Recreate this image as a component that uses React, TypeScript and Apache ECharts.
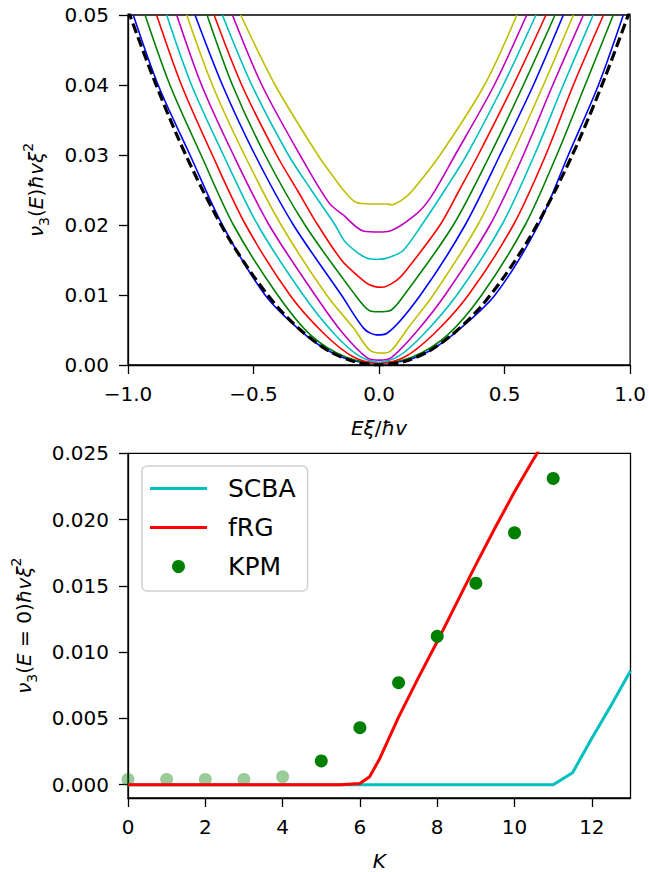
import React, { useEffect, useRef } from 'react';
import * as echarts from 'echarts';

const FONT = 'DejaVu Sans';

// ---------- top panel: nu_3(E) curves for K = 0..11 ----------
const topXTicks = [-1, -0.5, 0, 0.5, 1];
const topYTicks = [0, 0.01, 0.02, 0.03, 0.04, 0.05];

const curveK0 = [[-0.979,0.05],[-0.88,0.04],[-0.753,0.03],[-0.624,0.02],[-0.454,0.01],[-0.31,0.0048],[-0.2,0.002],[-0.1,0.0006],[0,0.0003],[0.1,0.0006],[0.2,0.002],[0.31,0.0048],[0.462,0.01],[0.635,0.02],[0.754,0.03],[0.874,0.04],[0.973,0.05]];
const curveK1 = [[-0.932,0.05],[-0.833,0.04],[-0.709,0.03],[-0.58,0.02],[-0.404,0.01],[-0.27,0.0042],[-0.13,0.0011],[0,0.0003],[0.13,0.0011],[0.27,0.0042],[0.409,0.01],[0.582,0.02],[0.708,0.03],[0.821,0.04],[0.933,0.05]];
const curveK2 = [[-0.886,0.05],[-0.787,0.04],[-0.664,0.03],[-0.531,0.02],[-0.355,0.01],[-0.22,0.0045],[-0.1,0.0011],[0,0.0003],[0.1,0.0011],[0.22,0.0045],[0.356,0.01],[0.535,0.02],[0.664,0.03],[0.774,0.04],[0.894,0.05]];
const curveK3 = [[-0.846,0.05],[-0.747,0.04],[-0.62,0.03],[-0.483,0.02],[-0.302,0.01],[-0.18,0.0045],[-0.08,0.0013],[0,0.0004],[0.08,0.0013],[0.18,0.0045],[0.31,0.01],[0.489,0.02],[0.619,0.03],[0.734,0.04],[0.853,0.05]];
const curveK4 = [[-0.806,0.05],[-0.707,0.04],[-0.58,0.03],[-0.438,0.02],[-0.255,0.01],[-0.15,0.0048],[-0.05,0.0011],[0,0.0007],[0.05,0.0011],[0.15,0.0048],[0.263,0.01],[0.442,0.02],[0.575,0.03],[0.692,0.04],[0.814,0.05]];
const curveK5 = [[-0.766,0.05],[-0.664,0.04],[-0.536,0.03],[-0.39,0.02],[-0.209,0.01],[-0.1,0.0052],[-0.036,0.0021],[0.017,0.0017],[0.05,0.0021],[0.12,0.0055],[0.216,0.01],[0.393,0.02],[0.529,0.03],[0.655,0.04],[0.774,0.05]];
const curveK6 = [[-0.733,0.05],[-0.624,0.04],[-0.494,0.03],[-0.341,0.02],[-0.15,0.01],[-0.06,0.0052],[-0.01,0.0043],[0.03,0.0045],[0.165,0.01],[0.343,0.02],[0.482,0.03],[0.615,0.04],[0.734,0.05]];
const curveK7 = [[-0.685,0.05],[-0.584,0.04],[-0.454,0.03],[-0.295,0.02],[-0.095,0.01],[-0.04,0.0078],[0,0.0076],[0.04,0.0077],[0.1,0.01],[0.296,0.02],[0.442,0.03],[0.575,0.04],[0.701,0.05]];
const curveK8 = [[-0.657,0.05],[-0.547,0.04],[-0.408,0.03],[-0.326,0.025],[-0.244,0.02],[-0.15,0.015],[-0.096,0.0131],[-0.04,0.0115],[0.01,0.0111],[0.07,0.0121],[0.11,0.0136],[0.243,0.02],[0.32,0.025],[0.395,0.03],[0.535,0.04],[0.665,0.05]];
const curveK9 = [[-0.624,0.05],[-0.507,0.04],[-0.361,0.03],[-0.27,0.025],[-0.175,0.02],[-0.135,0.0176],[-0.05,0.0153],[0,0.0151],[0.05,0.0155],[0.097,0.0164],[0.17,0.02],[0.262,0.025],[0.349,0.03],[0.495,0.04],[0.625,0.05]];
const curveK10 = [[-0.584,0.05],[-0.467,0.04],[-0.315,0.03],[-0.2,0.0232],[-0.142,0.0214],[-0.06,0.0191],[0,0.019],[0.04,0.0191],[0.143,0.0214],[0.203,0.0238],[0.303,0.03],[0.459,0.04],[0.588,0.05]];
const curveK11 = [[-0.551,0.05],[-0.414,0.04],[-0.244,0.03],[-0.18,0.0268],[-0.142,0.025],[-0.09,0.0232],[-0.03,0.023],[0.03,0.023],[0.05,0.0229],[0.1,0.0238],[0.135,0.025],[0.243,0.03],[0.42,0.04],[0.549,0.05]];

const cleanLimit = [[-1,0.0507],[-0.9,0.0411],[-0.8,0.0324],[-0.7,0.0248],[-0.6,0.0182],[-0.5,0.0127],[-0.4,0.0081],[-0.3,0.0046],[-0.2,0.002],[-0.1,0.0005],[0,0],[0.1,0.0005],[0.2,0.002],[0.3,0.0046],[0.4,0.0081],[0.5,0.0127],[0.6,0.0182],[0.7,0.0248],[0.8,0.0324],[0.9,0.0411],[1,0.0507]];

const curves = [curveK0, curveK1, curveK2, curveK3, curveK4, curveK5, curveK6, curveK7, curveK8, curveK9, curveK10, curveK11];

// ---------- bottom panel: nu_3(E=0) vs K ----------
const botXTicks = [0, 2, 4, 6, 8, 10, 12];
const botYTicks = [0, 0.005, 0.01, 0.015, 0.02, 0.025];

const scbaK = [0, 1, 2, 3, 4, 5, 6, 7, 8, 9, 10, 11, 11.5, 12, 12.5, 13];
const scbaV = [0, 0, 0, 0, 0, 0, 0, 0, 0, 0, 0, 0, 0.0009, 0.0035, 0.006, 0.0086];

const frgK = [0, 1, 2, 3, 4, 5, 5.5, 6, 6.25, 6.5, 7, 7.5, 8, 8.5, 9, 9.5, 10, 10.5, 11];
const frgV = [0, 0, 0, 0, 0, 0, 0, 0.0001, 0.0006, 0.0019, 0.0051, 0.008, 0.0108, 0.0137, 0.0166, 0.0194, 0.0221, 0.0246, 0.027];

const kpmFaintK = [0, 1, 2, 3, 4];
const kpmFaintV = [0.0004, 0.0004, 0.0004, 0.0004, 0.0006];
const kpmK = [5, 6, 7, 8, 9, 10, 11];
const kpmV = [0.0018, 0.0043, 0.0077, 0.0112, 0.0152, 0.019, 0.0231];

const zip = (a: number[], b: number[]) => a.map((v, i) => [v, b[i]]);

const cycle = ['#0000ff', '#008000', '#ff0000', '#00bfbf', '#bf00bf', '#bfbf00'];

const axisCommon = {
  axisLine: { show: true, onZero: false, lineStyle: { color: '#000', width: 1.3 } },
  axisTick: { show: true, length: 9, lineStyle: { color: '#000', width: 1.3 } },
  splitLine: { show: false },
};

const labelStyle = { fontFamily: FONT, fontSize: 20, color: '#000', margin: 19 };
const nameRich = {
  i: { fontFamily: FONT, fontSize: 20, fontStyle: 'italic', color: '#000', lineHeight: 30, verticalAlign: 'middle' },
  n: { fontFamily: FONT, fontSize: 20, fontStyle: 'normal', color: '#000', lineHeight: 30, verticalAlign: 'middle' },
  sub: { fontFamily: FONT, fontSize: 14, fontStyle: 'normal', color: '#000', lineHeight: 30, verticalAlign: 'bottom' },
  sup: { fontFamily: FONT, fontSize: 14, fontStyle: 'normal', color: '#000', lineHeight: 30, verticalAlign: 'top' },
};

const linePath = 'path://M0 0H57V3H0Z';

export default function App() {
  const ref = useRef<HTMLDivElement>(null);
  useEffect(() => {
    if (!ref.current) return;
    const chart = echarts.init(ref.current, undefined, { renderer: 'svg' });
    const topSeries: any[] = curves.map((c, i) => ({
      type: 'line',
      xAxisIndex: 0,
      yAxisIndex: 0,
      data: c,
      showSymbol: false,
      symbol: 'none',
      smooth: 0.3,
      lineStyle: { color: cycle[i % cycle.length], width: 1.6 },
      silent: true,
      z: 2,
    }));
    topSeries.push({
      type: 'line',
      xAxisIndex: 0,
      yAxisIndex: 0,
      data: cleanLimit,
      showSymbol: false,
      symbol: 'none',
      smooth: 0.3,
      lineStyle: { color: '#000', width: 3.2, type: [10, 4.5] },
      silent: true,
      z: 3,
    });
    const option: any = {
      animation: false,
      backgroundColor: '#fff',
      grid: [
        { left: 128, top: 15, width: 502.5, height: 350, show: true, borderColor: '#000', borderWidth: 1.3, backgroundColor: 'transparent' },
        { left: 128, top: 453.3, width: 502.5, height: 350, show: true, borderColor: '#000', borderWidth: 1.3, backgroundColor: 'transparent' },
      ],
      xAxis: [
        {
          ...axisCommon,
          gridIndex: 0,
          type: 'value',
          min: -1,
          max: 1,
          interval: 0.5,
          axisLabel: { ...labelStyle, customValues: topXTicks, formatter: (v: number) => v.toFixed(1).replace('-', '\u2212') },
          axisTick: { ...axisCommon.axisTick, customValues: topXTicks },
          name: '{i|E\u03be}{n|/}{i|\u0127v}',
          nameLocation: 'middle',
          nameGap: 48,
          nameTextStyle: { rich: nameRich, fontFamily: FONT, fontSize: 20 },
        },
        {
          ...axisCommon,
          gridIndex: 1,
          type: 'value',
          min: 0,
          max: 13,
          axisLabel: { ...labelStyle, customValues: botXTicks, formatter: (v: number) => String(v) },
          axisTick: { ...axisCommon.axisTick, customValues: botXTicks },
          name: '{i|K}',
          nameLocation: 'middle',
          nameGap: 48,
          nameTextStyle: { rich: nameRich, fontFamily: FONT, fontSize: 20 },
        },
      ],
      yAxis: [
        {
          ...axisCommon,
          gridIndex: 0,
          type: 'value',
          min: 0,
          max: 0.05,
          interval: 0.01,
          axisLabel: { ...labelStyle, customValues: topYTicks, formatter: (v: number) => v.toFixed(2) },
          axisTick: { ...axisCommon.axisTick, customValues: topYTicks },
          name: '{i|\u03bd}{sub|3}{n|(}{i|E}{n|)}{i|\u0127v\u03be}{sup|2}',
          nameLocation: 'middle',
          nameGap: 77,
          nameTextStyle: { rich: nameRich, fontFamily: FONT, fontSize: 20 },
        },
        {
          ...axisCommon,
          gridIndex: 1,
          type: 'value',
          min: -0.001,
          max: 0.025,
          axisLabel: { ...labelStyle, customValues: botYTicks, formatter: (v: number) => v.toFixed(3) },
          axisTick: { ...axisCommon.axisTick, customValues: botYTicks },
          name: '{i|\u03bd}{sub|3}{n|(}{i|E}{n| = 0)}{i|\u0127v\u03be}{sup|2}',
          nameLocation: 'middle',
          nameGap: 89,
          nameTextStyle: { rich: nameRich, fontFamily: FONT, fontSize: 20 },
        },
      ],
      legend: {
        data: [
          { name: 'SCBA', icon: linePath },
          { name: 'fRG', icon: linePath },
          { name: 'KPM', icon: 'circle' },
        ],
        orient: 'vertical',
        left: 142,
        top: 466,
        padding: [8, 12, 10, 8],
        itemWidth: 57,
        itemHeight: 13,
        itemGap: 10,
        backgroundColor: 'rgba(255,255,255,0.8)',
        borderColor: '#d0d0d0',
        borderWidth: 1.5,
        borderRadius: 5,
        textStyle: { fontFamily: FONT, fontSize: 25, color: '#000', lineHeight: 29, padding: [0, 0, 0, 16] },
      },
      series: [
        ...topSeries,
        {
          name: 'KPM_faint',
          type: 'scatter',
          xAxisIndex: 1,
          yAxisIndex: 1,
          data: zip(kpmFaintK, kpmFaintV),
          symbolSize: 13,
          itemStyle: { color: '#008000', opacity: 0.4 },
          z: 2,
        },
        {
          name: 'SCBA',
          type: 'line',
          xAxisIndex: 1,
          yAxisIndex: 1,
          data: zip(scbaK, scbaV),
          showSymbol: false,
          symbol: 'none',
          lineStyle: { color: '#00bfbf', width: 3 },
          itemStyle: { color: '#00bfbf' },
          z: 3,
        },
        {
          name: 'fRG',
          type: 'line',
          xAxisIndex: 1,
          yAxisIndex: 1,
          data: zip(frgK, frgV),
          showSymbol: false,
          symbol: 'none',
          lineStyle: { color: '#ff0000', width: 3 },
          itemStyle: { color: '#ff0000' },
          z: 4,
        },
        {
          name: 'KPM',
          type: 'scatter',
          xAxisIndex: 1,
          yAxisIndex: 1,
          data: zip(kpmK, kpmV),
          symbolSize: 13,
          itemStyle: { color: '#008000', opacity: 1 },
          z: 5,
        },
      ],
    };
    chart.setOption(option);
    return () => chart.dispose();
  }, []);
  return <div ref={ref} style={{ position: 'fixed', left: 0, top: 0, width: 649, height: 872, background: '#fff' }} />;
}
